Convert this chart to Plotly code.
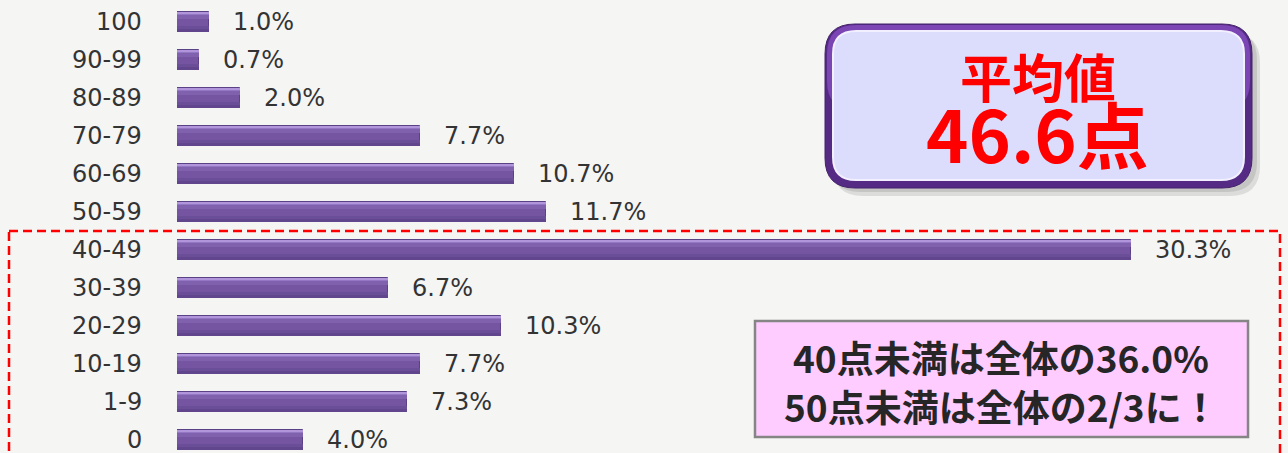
import plotly.graph_objects as go

# ---- data (top to bottom as shown) ----
categories = ["100", "90-99", "80-89", "70-79", "60-69", "50-59",
              "40-49", "30-39", "20-29", "10-19", "1-9", "0"]
values = [1.0, 0.7, 2.0, 7.7, 10.7, 11.7, 30.3, 6.7, 10.3, 7.7, 7.3, 4.0]
value_labels = ["1.0%", "0.7%", "2.0%", "7.7%", "10.7%", "11.7%",
                "30.3%", "6.7%", "10.3%", "7.7%", "7.3%", "4.0%"]

avg_title = "平均値"
avg_value = "46.6点"
note_lines = ["40点未満は全体の36.0%", "50点未満は全体の2/3に！"]

W, H = 1288, 453
ML, MR, MT, MB = 177, 0, 0, 0
PW, PH = W - ML - MR, H - MT - MB
BG = "#f5f5f3"
LATIN = "DejaVu Sans"
CJK = "Noto Sans CJK JP"


def px(x):
    return (x - ML) / PW


def py(y):
    return 1 - (y - MT) / PH


def rrect(x0, y0, x1, y1, r):
    X0, X1 = px(x0), px(x1)
    Y0, Y1 = py(y0), py(y1)
    rx, ry = r / PW, r / PH
    return (f"M {X0+rx},{Y0} L {X1-rx},{Y0} Q {X1},{Y0} {X1},{Y0-ry} "
            f"L {X1},{Y1+ry} Q {X1},{Y1} {X1-rx},{Y1} L {X0+rx},{Y1} "
            f"Q {X0},{Y1} {X0},{Y1+ry} L {X0},{Y0-ry} Q {X0},{Y0} {X0+rx},{Y0} Z")


n = len(categories)
ypos = [n - 1 - i for i in range(n)]  # numeric category positions (0 = bottom)

fig = go.Figure()
BW = 0.55
bands = [  # (width, offset-from-bottom-edge, colour) styling layers of each bar
    (BW, 0.0, "#7555a2"),
    (0.08, 0.0, "#62468d"),
    (0.08, 0.08, "#6b4e98"),
    (0.10, BW - 0.20, "#8061ad"),
    (0.07, BW - 0.10, "#9477c4"),
    (0.05, BW - 0.05, "#b195da"),
]
for k, (w, off, col) in enumerate(bands):
    fig.add_trace(go.Bar(
        x=values, y=ypos, orientation="h", width=w, offset=-BW / 2 + off,
        marker=dict(color=col,
                    line=dict(color="#5b4186", width=1) if k == 0 else dict(width=0)),
        hoverinfo="skip", showlegend=False))

annotations = []
# category labels (drawn as annotations so the bottom one is never dropped)
for yv, c in zip(ypos, categories):
    annotations.append(dict(x=0, y=yv, xref="paper", yref="y", text=c,
                            showarrow=False, xanchor="right", yanchor="middle",
                            xshift=-33, font=dict(family=LATIN, size=24, color="#333333")))
for yv, v, t in zip(ypos, values, value_labels):
    annotations.append(dict(x=v, y=yv, xref="x", yref="y", text=t,
                            showarrow=False, xanchor="left", yanchor="middle",
                            xshift=22, font=dict(family=LATIN, size=24, color="#333333")))

shapes = []
# dashed red frame
shapes.append(dict(type="rect", xref="paper", yref="paper",
                   x0=px(9), x1=px(1280), y0=py(231), y1=py(470),
                   line=dict(color="#ff0000", width=2.5, dash="9px,5px"),
                   fillcolor="rgba(0,0,0,0)", layer="below"))
# average box: shadow, border, fill, highlight
shapes.append(dict(type="path", xref="paper", yref="paper",
                   path=rrect(833, 33, 1260, 196, 30),
                   fillcolor="rgba(0,0,0,0.10)", line=dict(width=0)))
shapes.append(dict(type="path", xref="paper", yref="paper",
                   path=rrect(830, 30, 1257, 192, 30),
                   fillcolor="rgba(0,0,0,0.10)", line=dict(width=0)))
shapes.append(dict(type="path", xref="paper", yref="paper",
                   path=rrect(825, 24, 1252, 188, 30),
                   fillcolor="#552a85", line=dict(color="#45226c", width=1)))
shapes.append(dict(type="path", xref="paper", yref="paper",
                   path=rrect(827, 25, 1250, 110, 29),
                   fillcolor="#7b45b4", line=dict(width=0)))
shapes.append(dict(type="path", xref="paper", yref="paper",
                   path=rrect(833, 31, 1244, 180, 23),
                   fillcolor="#dcdcfc", line=dict(color="#f2f0ff", width=2)))
# note box
shapes.append(dict(type="rect", xref="paper", yref="paper",
                   x0=px(755), x1=px(1248), y0=py(321), y1=py(437),
                   fillcolor="#ffccff", line=dict(color="#858585", width=2.5)))

annotations.append(dict(x=px(1038), y=py(76), xref="paper", yref="paper",
                        text=f"<b>{avg_title}</b>", showarrow=False,
                        xanchor="center", yanchor="middle",
                        font=dict(family=CJK, size=52, color="#ff0000")))
annotations.append(dict(x=px(1037), y=py(132), xref="paper", yref="paper",
                        text=f"<b>{avg_value}</b>", showarrow=False,
                        xanchor="center", yanchor="middle",
                        font=dict(family=CJK, size=72, color="#ff0000")))
for yy, line in zip([357, 406], note_lines):
    annotations.append(dict(x=px(1001), y=py(yy), xref="paper", yref="paper",
                            text=f"<b>{line}</b>", showarrow=False,
                            xanchor="center", yanchor="middle",
                            font=dict(family=CJK, size=37, color="#262626")))

fig.update_layout(
    width=W, height=H,
    margin=dict(l=ML, r=MR, t=MT, b=MB, autoexpand=False),
    paper_bgcolor=BG, plot_bgcolor=BG,
    barmode="overlay", bargap=0,
    xaxis=dict(range=[0, PW / 31.5], visible=False, fixedrange=True),
    yaxis=dict(range=[(440 - 453) / 38, 440 / 38], visible=False,
               showgrid=False, zeroline=False, fixedrange=True),
    shapes=shapes, annotations=annotations,
)

fig.write_html("out.html", config={"displayModeBar": False},
               post_script="document.body.style.margin='0';"
                           "document.body.style.background='" + BG + "';")
